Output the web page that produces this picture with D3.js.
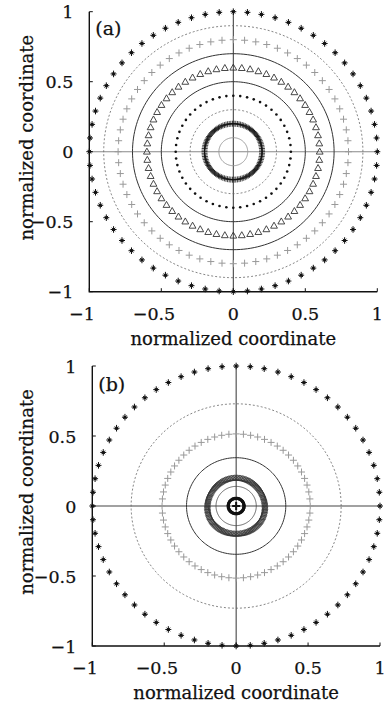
<!DOCTYPE html>
<html><head><meta charset="utf-8">
<script src="https://cdn.jsdelivr.net/npm/d3@7"></script>
<style>body{margin:0;background:#fff}svg{display:block}text{stroke:#111;stroke-width:0.25px}</style>
</head><body>
<svg id="chart" width="389" height="705"></svg>
<script>
// ---------- data ----------
const tickValues = [-1, -0.5, 0, 0.5, 1];
const axisLabel = "normalized coordinate";
const panelLabels = ["(a)", "(b)"];

// panel (a): marker rings
const aMarkerSeries = ["star", "plusGray", "triangle", "dot", "plusDense"];
const aMarkerRadius = [1.0, 0.8, 0.6, 0.4, 0.2];
const aMarkerCount  = [64, 64, 64, 52, 110];
// panel (a): line circles
const aLineSeries = ["dashed", "solid", "solid", "dashed", "thinGray"];
const aLineRadius = [0.9, 0.7, 0.5, 0.3, 0.1];

// panel (b): marker rings
const bMarkerSeries = ["star", "plusGray", "triangleSmall", "dotDense", "plusCenter"];
const bMarkerRadius = [1.0, 0.515, 0.2, 0.055, 0.0];
const bMarkerCount  = [64, 64, 120, 64, 1];
// panel (b): line circles
const bLineSeries = ["dashed", "solid", "thin"];
const bLineRadius = [0.73, 0.345, 0.14];

// ---------- styles ----------
const FONT = "'DejaVu Serif', serif";
const lineStyle = {
  dashed:   {stroke:"#666", width:0.8, dash:"2,2"},
  solid:    {stroke:"#333", width:1.0, dash:null},
  thin:     {stroke:"#444", width:0.8, dash:null},
  thinGray: {stroke:"#999", width:1.0, dash:null}
};

const svg = d3.select("#chart");

const panels = [
  {left:89.3, right:377.3, top:11.7, bottom:291.7, hColor:"#888",
   mSeries:aMarkerSeries, mR:aMarkerRadius, mN:aMarkerCount,
   lSeries:aLineSeries, lR:aLineRadius, label:panelLabels[0], labelY:35},
  {left:92.3, right:380, top:366, bottom:646, hColor:"#444",
   mSeries:bMarkerSeries, mR:bMarkerRadius, mN:bMarkerCount,
   lSeries:bLineSeries, lR:bLineRadius, label:panelLabels[1], labelY:391}
];

function drawMarker(g, type, cx, cy) {
  if (type === "star") {
    g.append("path").attr("d",`M${cx-3},${cy}H${cx+3}M${cx},${cy-3.3}V${cy+3.3}M${cx-1.8},${cy-1.8}L${cx+1.8},${cy+1.8}M${cx-1.8},${cy+1.8}L${cx+1.8},${cy-1.8}`)
      .attr("stroke","#111").attr("stroke-width",1).attr("fill","none");
    g.append("circle").attr("cx",cx).attr("cy",cy).attr("r",1.5).attr("fill","#111");
  } else if (type === "plusGray") {
    g.append("path").attr("d",`M${cx-3.5},${cy}H${cx+3.5}M${cx},${cy-3.5}V${cy+3.5}`)
      .attr("stroke","#999").attr("stroke-width",1).attr("fill","none");
  } else if (type === "plusDense") {
    g.append("path").attr("d",`M${cx-3},${cy}H${cx+3}M${cx},${cy-3}V${cy+3}`)
      .attr("stroke","#111").attr("stroke-width",0.8).attr("fill","none");
  } else if (type === "triangle") {
    g.append("path").attr("d",`M${cx},${cy-3.6}L${cx+3.4},${cy+2.4}L${cx-3.4},${cy+2.4}Z`)
      .attr("stroke","#333").attr("stroke-width",0.9).attr("fill","none");
  } else if (type === "triangleSmall") {
    g.append("path").attr("d",`M${cx},${cy-3.2}L${cx+3},${cy+2.1}L${cx-3},${cy+2.1}Z`)
      .attr("stroke","#333").attr("stroke-width",0.8).attr("fill","none");
  } else if (type === "dot") {
    g.append("circle").attr("cx",cx).attr("cy",cy).attr("r",1.3).attr("fill","#111");
  } else if (type === "dotDense") {
    g.append("circle").attr("cx",cx).attr("cy",cy).attr("r",1.6).attr("fill","#111");
  } else if (type === "plusCenter") {
    g.append("path").attr("d",`M${cx-4},${cy}H${cx+4}M${cx},${cy-4}V${cy+4}`)
      .attr("stroke","#111").attr("stroke-width",2).attr("fill","none");
  }
}

panels.forEach(p => {
  const x = d3.scaleLinear().domain([-1,1]).range([p.left, p.right]);
  const y = d3.scaleLinear().domain([-1,1]).range([p.bottom, p.top]);
  const g = svg.append("g");

  // crosshair
  g.append("line").attr("x1",x(-1)).attr("x2",x(1)).attr("y1",y(0)).attr("y2",y(0))
    .attr("stroke",p.hColor).attr("stroke-width",1.1);
  g.append("line").attr("x1",x(0)).attr("x2",x(0)).attr("y1",y(-1)).attr("y2",y(1))
    .attr("stroke","#333").attr("stroke-width",1);

  // line circles
  const circLine = d3.line().x(d=>x(d[0])).y(d=>y(d[1]));
  p.lSeries.forEach((s,i) => {
    const r = p.lR[i];
    const pts = d3.range(0, 361, 2).map(a => [r*Math.cos(a*Math.PI/180), r*Math.sin(a*Math.PI/180)]);
    const st = lineStyle[s];
    g.append("path").attr("d", circLine(pts)).attr("fill","none")
      .attr("stroke",st.stroke).attr("stroke-width",st.width)
      .attr("stroke-dasharray",st.dash);
  });

  // marker rings
  p.mSeries.forEach((s,i) => {
    const r = p.mR[i], n = p.mN[i];
    const mg = g.append("g");
    d3.range(n).forEach(k => {
      const a = 2*Math.PI*k/n;
      drawMarker(mg, s, x(r*Math.cos(a)), y(r*Math.sin(a)));
    });
  });

  // axes (left + bottom)
  g.append("path").attr("d",`M${x(-1)},${y(1)}V${y(-1)}H${x(1)}`)
    .attr("fill","none").attr("stroke","#111").attr("stroke-width",1.4);
  tickValues.forEach(t => {
    g.append("line").attr("x1",x(-1)).attr("x2",x(-1)+3.5).attr("y1",y(t)).attr("y2",y(t))
      .attr("stroke","#111").attr("stroke-width",1);
    g.append("line").attr("x1",x(t)).attr("x2",x(t)).attr("y1",y(-1)).attr("y2",y(-1)-3.5)
      .attr("stroke","#111").attr("stroke-width",1);
  });

  // tick labels
  const fmt = v => String(Math.abs(v));
  tickValues.forEach(t => {
    const tx = g.append("text").attr("x",x(t)).attr("y",p.bottom+28)
      .attr("text-anchor","middle").attr("font-family",FONT).attr("font-size",17.5)
      .attr("fill","#111").text(fmt(t));
    if (t < 0) {
      const w = tx.node().getComputedTextLength();
      g.append("text").attr("x",x(t)-w/2).attr("y",p.bottom+28)
        .attr("text-anchor","end").attr("font-family",FONT).attr("font-size",17.5)
        .attr("fill","#111").text("\u2212");
    }
    g.append("text").attr("x",p.left-16).attr("y",y(t)+6.5)
      .attr("text-anchor","end").attr("font-family",FONT).attr("font-size",17.5)
      .attr("fill","#111").text(t < 0 ? "\u2212"+fmt(t) : fmt(t));
  });

  // axis titles
  g.append("text").attr("x",(p.left+p.right)/2).attr("y",p.bottom+53)
    .attr("text-anchor","middle").attr("font-family",FONT).attr("font-size",18)
    .attr("fill","#111").text(axisLabel);
  g.append("text").attr("transform",`translate(33,${(p.top+p.bottom)/2-14}) rotate(-90)`)
    .attr("text-anchor","middle").attr("font-family",FONT).attr("font-size",18)
    .attr("fill","#111").text(axisLabel);

  // panel label
  g.append("text").attr("x",p.left+6).attr("y",p.labelY)
    .attr("font-family",FONT).attr("font-size",19).attr("fill","#111").text(p.label);
});
</script>
</body></html>
